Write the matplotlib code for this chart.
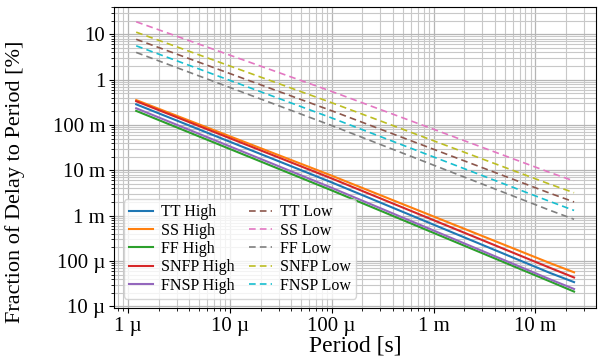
import numpy as np
import matplotlib
matplotlib.use("Agg")
import matplotlib.pyplot as plt
from matplotlib.ticker import EngFormatter, LogLocator, NullFormatter

# --- 1. DATA ---
period = [1.2e-6, 1e-4, 1.4e-2, 2.4e-2]

tt_high = [0.286, 5.4e-3, 5.4e-5, 3.4e-5]
ss_high = [0.355, 7.6e-3, 8.9e-5, 5.6e-5]
ff_high = [0.205, 3.6e-3, 3.5e-5, 2.1e-5]
snfp_high = [0.335, 6.6e-3, 7.0e-5, 4.3e-5]
fnsp_high = [0.234, 4.1e-3, 3.9e-5, 2.4e-5]

tt_low = [7.8, 0.206, 3.1e-3, 2.0e-3]
ss_low = [19.0, 0.55, 8.9e-3, 5.8e-3]
ff_low = [4.0, 0.097, 1.3e-3, 8.3e-4]
snfp_low = [11.2, 0.31, 4.9e-3, 3.2e-3]
fnsp_low = [5.6, 0.143, 2.04e-3, 1.3e-3]

high_series = [("TT High", tt_high), ("SS High", ss_high), ("FF High", ff_high),
               ("SNFP High", snfp_high), ("FNSP High", fnsp_high)]
low_series = [("TT Low", tt_low), ("SS Low", ss_low), ("FF Low", ff_low),
              ("SNFP Low", snfp_low), ("FNSP Low", fnsp_low)]

x_ticks = [1e-6, 1e-5, 1e-4, 1e-3, 1e-2]
y_ticks = [1e-5, 1e-4, 1e-3, 1e-2, 1e-1, 1, 10]

# --- 2. STYLE ---
plt.rcParams['font.family'] = ['Liberation Serif', 'DejaVu Serif']

high_colors = ['#1f77b4', '#ff7f0e', '#2ca02c', '#d62728', '#9467bd']
low_colors = ['#8c564b', '#e377c2', '#7f7f7f', '#bcbd22', '#17becf']

# --- 3. PLOT ---
fig, ax = plt.subplots(figsize=(5.98, 3.6), dpi=100)
fig.subplots_adjust(left=0.191, right=0.997, top=0.981, bottom=0.144)

for (label, vals), c in zip(high_series, high_colors):
    ax.plot(period, vals, color=c, lw=1.5, label=label)
for (label, vals), c in zip(low_series, low_colors):
    ax.plot(period, vals, color=c, lw=1.2, ls=(0, (4, 2.5)), label=label)

ax.set_xscale('log')
ax.set_yscale('log')
ax.set_xticks(x_ticks)
ax.set_yticks(y_ticks)
ax.set_xlim(7.3e-7, 0.0396)
ax.set_ylim(9.05e-6, 40.6)

ax.xaxis.set_major_formatter(EngFormatter(places=0, sep=' '))
ax.yaxis.set_major_formatter(EngFormatter(places=0, sep=' '))
ax.xaxis.set_minor_locator(LogLocator(base=10, subs=np.arange(2, 10), numticks=20))
ax.yaxis.set_minor_locator(LogLocator(base=10, subs=np.arange(2, 10), numticks=20))
ax.xaxis.set_minor_formatter(NullFormatter())
ax.yaxis.set_minor_formatter(NullFormatter())

ax.grid(True, which='major', color='#b5b5b5', lw=0.9)
ax.grid(True, which='minor', color='#c8c8c8', lw=0.8)
ax.set_axisbelow(True)
ax.tick_params(labelsize=15, pad=3)

ax.set_xlabel('Period [s]', fontsize=17)
ax.set_ylabel('Fraction of Delay to Period [%]', fontsize=16)
ax.xaxis.set_label_coords(0.5, -0.09)
ax.yaxis.set_label_coords(-0.185, 0.42)

ax.legend(ncol=2, loc='lower left', fontsize=11.5, handlelength=1.5,
          handletextpad=0.5, labelspacing=0.15, columnspacing=0.9,
          borderpad=0.3, borderaxespad=0.6, framealpha=0.8, edgecolor='#cccccc')

plt.savefig('out.png', dpi=100)
